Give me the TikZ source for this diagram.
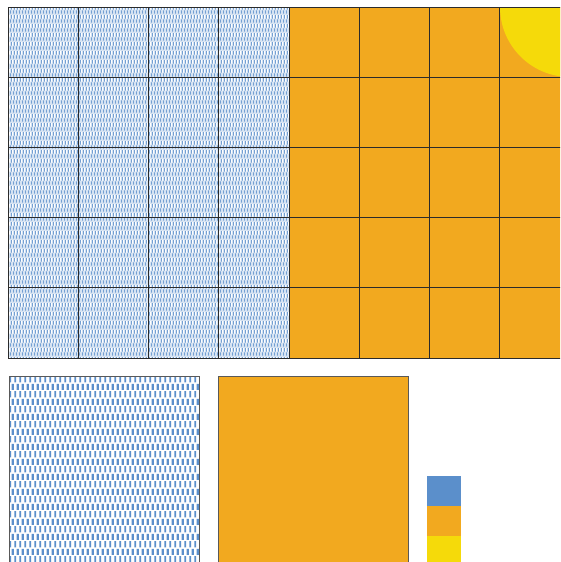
\documentclass[tikz,border=0pt]{standalone}
\usetikzlibrary{patterns.meta}
\definecolor{cblue}{HTML}{5B8FCB}
\definecolor{corange}{HTML}{F2A91F}
\definecolor{cyellow}{HTML}{F5DA0A}
\definecolor{cline}{HTML}{2B2B2B}
\tikzdeclarepattern{
  name=bigdash,
  type=colored,
  bounding box={(0pt,0pt) and (4.7pt,15.4pt)},
  tile size={(4.7pt,15.4pt)},
  code={
    \fill[cblue] (0.4pt,0.6pt) rectangle (2.3pt,7.0pt);
    \fill[cblue] (2.75pt,8.3pt) rectangle (4.65pt,14.7pt);
  }
}
\tikzdeclarepattern{
  name=smalldash,
  type=colored,
  bounding box={(0pt,0pt) and (2.45pt,8.6pt)},
  tile size={(2.45pt,8.6pt)},
  code={
    \fill[cblue!85] (0.2pt,0.3pt) rectangle (1.2pt,3.9pt);
    \fill[cblue!85] (1.425pt,4.6pt) rectangle (2.425pt,8.2pt);
  }
}
\tikzset{
  gridline/.style={draw=cline, line width=0.9pt},
  boxline/.style={draw=black!65, line width=0.9pt},
}
\begin{document}
\begin{tikzpicture}[x=1pt,y=-1pt]
\useasboundingbox (0,0) rectangle (560,562);
\clip (0,0) rectangle (560,562);
% top grid
\fill[white] (8,7) rectangle (289,358);
\fill[cblue!25] (8,7) rectangle (289,358);
\fill[pattern=smalldash] (8,7) rectangle (289,358);
\fill[corange] (289,7) rectangle (570,358);
\begin{scope}
  \clip (289,7) rectangle (570,358);
  \fill[cyellow] (570,7) circle (70);
\end{scope}
\foreach \i in {0,...,8} {
  \draw[gridline] ({8+70.25*\i},7) -- ({8+70.25*\i},358);
}
\foreach \j in {0,...,5} {
  \draw[gridline] (8,{7+70.2*\j}) -- (570,{7+70.2*\j});
}
% bottom boxes
\fill[white] (9,376) rectangle (199,580);
\fill[pattern=bigdash] (9,376) rectangle (199,580);
\draw[boxline] (9,376) rectangle (199,580);
\fill[corange] (218,376) rectangle (408,580);
\draw[boxline] (218,376) rectangle (408,580);
% legend
\fill[cblue] (427,476) rectangle (461,506);
\fill[corange] (427,506) rectangle (461,536);
\fill[cyellow] (427,536) rectangle (461,566);
\end{tikzpicture}
\end{document}
